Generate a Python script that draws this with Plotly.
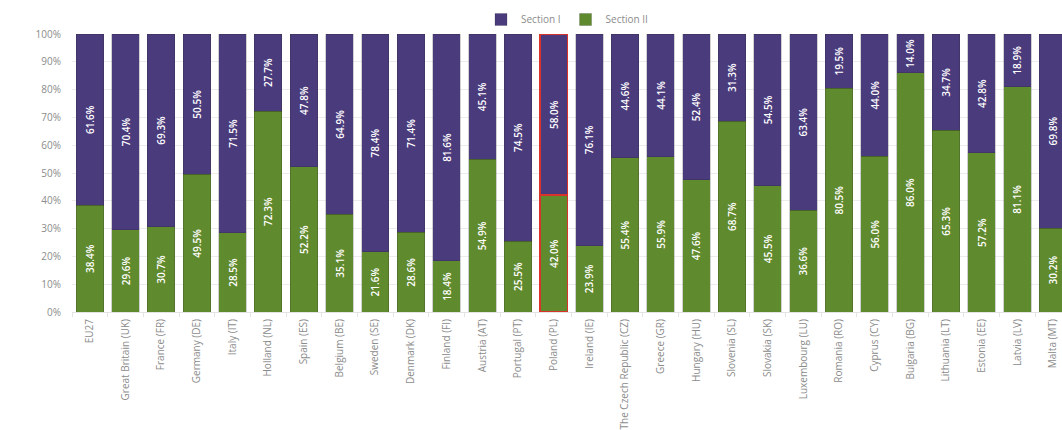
import plotly.graph_objects as go

countries = [
    "EU27", "Great Britain (UK)", "France (FR)", "Germany (DE)", "Italy (IT)",
    "Holland (NL)", "Spain (ES)", "Belgium (BE)", "Sweden (SE)", "Denmark (DK)",
    "Finland (FI)", "Austria (AT)", "Portugal (PT)", "Poland (PL)", "Ireland (IE)",
    "The Czech Republic (CZ)", "Greece (GR)", "Hungary (HU)", "Slovenia (SL)",
    "Slovakia (SK)", "Luxembourg (LU)", "Romania (RO)", "Cyprus (CY)",
    "Bulgaria (BG)", "Lithuania (LT)", "Estonia (EE)", "Latvia (LV)", "Malta (MT)",
]
section_2 = [38.4, 29.6, 30.7, 49.5, 28.5, 72.3, 52.2, 35.1, 21.6, 28.6,
             18.4, 54.9, 25.5, 42.0, 23.9, 55.4, 55.9, 47.6, 68.7, 45.5,
             36.6, 80.5, 56.0, 86.0, 65.3, 57.2, 81.1, 30.2]
section_1 = [61.6, 70.4, 69.3, 50.5, 71.5, 27.7, 47.8, 64.9, 78.4, 71.4,
             81.6, 45.1, 74.5, 58.0, 76.1, 44.6, 44.1, 52.4, 31.3, 54.5,
             63.4, 19.5, 44.0, 14.0, 34.7, 42.8, 18.9, 69.8]
highlight = "Poland (PL)"

GREEN = "#5f8a2d"
PURPLE = "#4a3b7c"
GREY = "#8c8c8c"

edge_colors = ["#d9342b" if c == highlight else "rgba(40,40,40,0.35)" for c in countries]
edge_widths = [1.6 if c == highlight else 0.6 for c in countries]

fig = go.Figure()
fig.add_trace(go.Bar(
    name="Section II", x=countries, y=section_2,
    marker=dict(color=GREEN, line=dict(color=edge_colors, width=edge_widths)),
    text=[f"{v:.1f}%" for v in section_2],
    textposition="inside", insidetextanchor="middle", textangle=-90,
    constraintext="none",
    textfont=dict(color="white", size=10, family="Open Sans", weight=600),
))
fig.add_trace(go.Bar(
    name="Section I", x=countries, y=section_1,
    marker=dict(color=PURPLE, line=dict(color=edge_colors, width=edge_widths)),
    text=[f"{v:.1f}%" for v in section_1],
    textposition="inside", insidetextanchor="middle", textangle=-90,
    constraintext="none",
    textfont=dict(color="white", size=10, family="Open Sans", weight=600),
))

fig.update_layout(
    width=1062, height=430,
    margin=dict(l=72, r=0, t=34, b=112),
    barmode="stack", bargap=0.23,
    plot_bgcolor="white", paper_bgcolor="white",
    font=dict(family="Open Sans", color=GREY, size=10),
    legend=dict(
        orientation="h", x=0.5, xanchor="center", y=1.0, yanchor="bottom",
        traceorder="reversed", font=dict(size=10, color=GREY),
        itemwidth=30, bgcolor="rgba(0,0,0,0)",
    ),
    xaxis=dict(
        range=[-0.5, 27.25], tickangle=-90, showgrid=False,
        showline=True, linecolor="#e4e4e4", linewidth=1,
        ticks="outside", ticklen=4, tickcolor="#e4e4e4",
        ticklabelstandoff=2, tickson="boundaries",
        tickfont=dict(size=10, color=GREY),
    ),
    yaxis=dict(
        range=[0, 100], dtick=10, ticksuffix="%",
        showgrid=True, gridcolor="#ececec", gridwidth=1,
        zeroline=False, ticklabelstandoff=10,
        tickfont=dict(size=10, color=GREY),
    ),
)

fig.write_html("out.html")
